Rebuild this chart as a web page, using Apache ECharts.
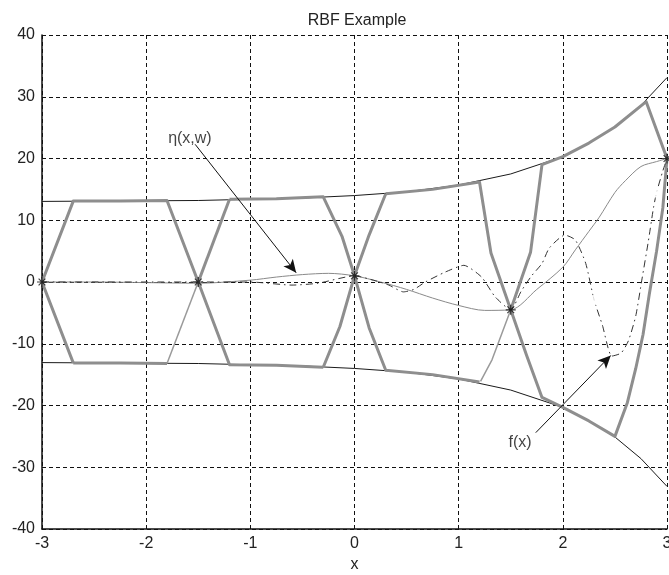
<!DOCTYPE html>
<html>
<head>
<meta charset="utf-8">
<script src="https://cdn.jsdelivr.net/npm/echarts@6/dist/echarts.min.js"></script>
<style>html,body{margin:0;padding:0;background:#fff}#c{width:669px;height:575px}</style>
</head>
<body>
<div id="c"></div>
<script>
// ---- data ----
const xTicks = [-3, -2, -1, 0, 1, 2, 3];
const yTicks = [-40, -30, -20, -10, 0, 10, 20, 30, 40];

const envX = [-3, -2.5, -2, -1.5, -1, -0.5, 0, 0.5, 1, 1.5, 2, 2.25, 2.5, 2.75, 3];
const envUpper = [13.05, 13.1, 13.15, 13.2, 13.4, 13.6, 14.0, 14.6, 15.7, 17.5, 20.3, 22.5, 25.1, 28.6, 33.1];
const envLower = [-13.05, -13.1, -13.15, -13.2, -13.4, -13.6, -14.0, -14.6, -15.7, -17.5, -20.3, -22.5, -25.1, -28.6, -33.1];

const etaX = [-3, -2.5, -2, -1.5, -1, -0.75, -0.5, -0.25, 0, 0.25, 0.5, 0.75, 1, 1.25, 1.5, 1.75, 2, 2.12, 2.25, 2.35, 2.5, 2.6, 2.75, 2.9, 3];
const etaY = [0, 0, -0.1, -0.2, 0.3, 0.8, 1.2, 1.4, 1.0, 0.0, -1.2, -2.6, -3.8, -4.6, -4.5, -1.2, 2.4, 5.2, 8.2, 10.5, 14.5, 16.4, 18.7, 19.5, 20];

const fX = [-3, -2.5, -2, -1.5, -1, -0.6, -0.35, 0, 0.2, 0.33, 0.47, 0.57, 0.68, 0.87, 1.05, 1.22, 1.35, 1.5, 1.6, 1.7, 1.8, 1.87, 2.02, 2.12, 2.22, 2.3, 2.38, 2.47, 2.56, 2.63, 2.7, 2.76, 2.82, 2.87, 2.9, 2.96, 3];
const fY = [0, 0, 0, 0, 0, -0.5, -0.2, 1.0, 0.2, -0.5, -1.6, -1.2, 0, 1.6, 2.7, 0.8, -2.4, -4.5, -1.5, 1.0, 3.0, 5.5, 7.6, 6.8, 3.0, -2.9, -7.0, -12.0, -11.5, -9.5, -5.5, 0.5, 6.5, 12.0, 14.5, 18.0, 20];

const centersX = [-3, -1.5, 0, 1.5, 3];
const centersY = [0, 0, 1.0, -4.5, 20];
const circlesX = [2.3, 2.9];
const circlesY = [-2.9, 14.5];

// thick gray bound lines (polylines of [x, y])
const thickPaths = [
  [[-2.7, -13.1], [-3, 0], [-2.7, 13.1], [-2.25, 13.12], [-1.8, 13.2], [-1.5, 0], [-1.2, -13.4], [-0.75, -13.5], [-0.3, -13.8]],
  [[-2.7, -13.1], [-2.25, -13.12], [-1.8, -13.2]],
  [[-1.2, 13.4], [-1.5, 0]],
  [[-1.2, 13.4], [-0.75, 13.5], [-0.3, 13.8], [-0.12, 7.4], [0, 1.0], [0.14, -7.4], [0.3, -14.3], [0.75, -15.0], [1.2, -16.2]],
  [[0.3, 14.3], [0.14, 7.6], [0, 1.0], [-0.14, -7.2], [-0.3, -13.8]],
  [[0.3, 14.3], [0.75, 15.0], [1.2, 16.2], [1.31, 4.7], [1.5, -4.5], [1.65, -11.8], [1.8, -18.7], [2, -20.3], [2.25, -22.5], [2.5, -25.0], [2.62, -19.5], [2.7, -14.0], [2.77, -8.5], [2.83, -2.0], [2.9, 5.0], [2.96, 12.0], [3, 20]],
  [[1.5, -4.5], [1.69, 4.8], [1.8, 19.0], [2, 20.3], [2.25, 22.5], [2.5, 25.1], [2.8, 29.2], [3, 20]]
];
const thinGrayPaths = [
  [[-1.8, -13.2], [-1.5, 0]],
  [[1.5, -4.5], [1.32, -12.6], [1.21, -16.1]]
];

const labelEta = { text: 'η(x,w)', x: -1.58, y: 23.2 };
const labelF = { text: 'f(x)', x: 1.59, y: -26.0 };
const arrowEta = [[-1.53, 22.3], [-0.56, 1.5]];
const arrowF = [[1.74, -24.4], [2.46, -11.9]];

// ---- chart ----
const font = "'Liberation Sans', Arial, sans-serif";
const zip = (xs, ys) => xs.map((x, i) => [x, ys[i]]);
const series = [];

series.push({ type: 'line', data: zip(envX, envUpper), showSymbol: false, smooth: false, z: 2,
  lineStyle: { color: '#1a1a1a', width: 1 }, silent: true, animation: false });
series.push({ type: 'line', data: zip(envX, envLower), showSymbol: false, z: 2,
  lineStyle: { color: '#1a1a1a', width: 1 }, silent: true, animation: false });

thickPaths.forEach(p => series.push({ type: 'line', data: p, showSymbol: false, z: 3,
  lineStyle: { color: '#8e8e8e', width: 3, join: 'round' }, silent: true, animation: false }));
thinGrayPaths.forEach(p => series.push({ type: 'line', data: p, showSymbol: false, z: 3,
  lineStyle: { color: '#9a9a9a', width: 1.5 }, silent: true, animation: false }));

series.push({ type: 'line', data: zip(etaX, etaY), showSymbol: false, smooth: 0.3, z: 4,
  lineStyle: { color: '#8a8a8a', width: 1 }, silent: true, animation: false });
series.push({ type: 'line', data: zip(fX, fY), showSymbol: false, smooth: 0.2, z: 4,
  lineStyle: { color: '#333', width: 1, type: [7, 4, 1.5, 4] }, silent: true, animation: false });

series.push({ type: 'scatter', data: zip(circlesX, circlesY), symbol: 'emptyCircle', symbolSize: 9, z: 5,
  itemStyle: { color: '#fff', borderColor: '#777', borderWidth: 1 }, silent: true, animation: false });
series.push({ type: 'scatter', data: zip(centersX, centersY), z: 6,
  symbol: 'path://M5,0L5,10M0,5L10,5M1.6,1.6L8.4,8.4M1.6,8.4L8.4,1.6', symbolSize: 10,
  itemStyle: { color: 'rgba(0,0,0,0)', borderColor: '#111', borderWidth: 1.2 }, silent: true, animation: false });

series.push({ type: 'scatter', data: [[labelEta.x, labelEta.y, labelEta.text], [labelF.x, labelF.y, labelF.text]],
  symbolSize: 0, z: 7, silent: true, animation: false,
  label: { show: true, position: 'inside', formatter: p => p.data[2], color: '#111', fontSize: 16, fontFamily: font },
  markLine: { silent: true, animation: false, symbol: ['none', 'arrow'], symbolSize: [9, 13],
    lineStyle: { color: '#111', width: 1, type: 'solid' }, label: { show: false },
    data: [
      [{ coord: arrowEta[0] }, { coord: arrowEta[1] }],
      [{ coord: arrowF[0] }, { coord: arrowF[1] }]
    ] } });

const chart = echarts.init(document.getElementById('c'), null, { renderer: 'canvas' });
chart.setOption({
  animation: false,
  backgroundColor: '#fff',
  title: { text: 'RBF Example', left: 352, top: 8, textAlign: 'center',
    textStyle: { fontSize: 16, fontWeight: 'normal', color: '#222', fontFamily: font } },
  grid: { left: 42, right: 2, top: 35, bottom: 46, containLabel: false, outerBoundsMode: 'none' },
  xAxis: { type: 'value', min: xTicks[0], max: xTicks[xTicks.length - 1], interval: 1,
    name: 'x', nameLocation: 'middle', nameGap: 28,
    nameTextStyle: { fontSize: 16, color: '#222', fontFamily: font },
    axisLine: { show: true, onZero: false, lineStyle: { color: '#111', width: 1.5 } },
    axisTick: { show: false },
    axisLabel: { fontSize: 16, color: '#222', fontFamily: font, margin: 7 },
    splitLine: { show: true, showMinLine: true, showMaxLine: true, lineStyle: { color: '#111', type: [4, 3], width: 1 } } },
  yAxis: { type: 'value', min: yTicks[0], max: yTicks[yTicks.length - 1], interval: 10,
    axisLine: { show: true, onZero: false, lineStyle: { color: '#111', width: 1.5 } },
    axisTick: { show: false },
    axisLabel: { fontSize: 16, color: '#222', fontFamily: font, margin: 7 },
    splitLine: { show: true, showMinLine: true, showMaxLine: true, lineStyle: { color: '#111', type: [4, 3], width: 1 } } },
  series: series
});
</script>
</body>
</html>
